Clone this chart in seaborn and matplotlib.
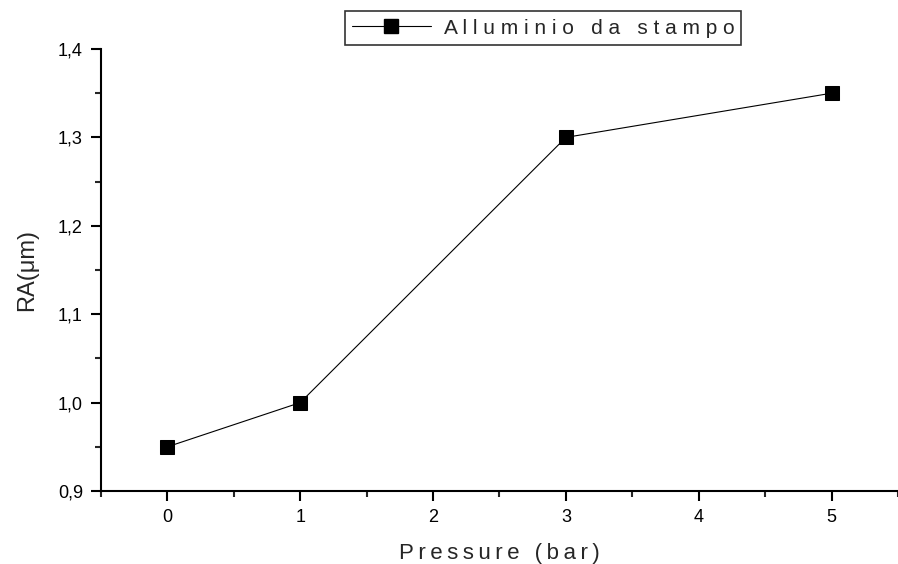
import matplotlib
matplotlib.use("Agg")
import matplotlib.pyplot as plt
import seaborn as sns
import pandas as pd
from matplotlib.ticker import MultipleLocator, FuncFormatter

pressure = [0, 1, 3, 5]
ra = [0.95, 1.00, 1.30, 1.35]
series_name = "Alluminio da stampo"
x_label = "Pressure (bar)"
y_label = "RA(μm)"

sns.set_theme(style="ticks")
plt.rcParams['font.family'] = ['Liberation Sans', 'DejaVu Sans']

def spaced(s, sep="\u2009"):
    return sep.join(s)

df = pd.DataFrame({"Pressure": pressure, "RA": ra, "series": series_name})

fig = plt.figure(figsize=(8.98, 5.64), dpi=100)
ax = fig.add_axes([101/898, 73/564, 1 - 101/898, (491-49)/564])

sns.lineplot(data=df, x="Pressure", y="RA", ax=ax, color="black", linewidth=0.8,
             marker="s", markersize=10, markeredgecolor="black", markerfacecolor="black",
             legend=False)

ax.set_xlim(-0.5, 5.5)
ax.set_ylim(0.9, 1.4)
ax.xaxis.set_major_locator(MultipleLocator(1))
ax.xaxis.set_minor_locator(MultipleLocator(0.5))
ax.yaxis.set_major_locator(MultipleLocator(0.1))
ax.yaxis.set_minor_locator(MultipleLocator(0.05))
ax.yaxis.set_major_formatter(FuncFormatter(lambda v, p: f"{v:.1f}".replace(".", ",")))
ax.xaxis.set_major_formatter(FuncFormatter(lambda v, p: f"{v:.0f}"))

for s in ["top", "right"]:
    ax.spines[s].set_visible(False)
for s in ["left", "bottom"]:
    ax.spines[s].set_linewidth(1.5)
    ax.spines[s].set_color("black")

ax.tick_params(which="major", direction="out", length=7, width=1.5, labelsize=13, colors="black", pad=6)
ax.tick_params(which="minor", direction="out", length=4, width=1.5)

ax.set_xlabel(spaced(x_label), fontsize=16, labelpad=12)
ax.set_ylabel(y_label, fontsize=17, labelpad=14)

handle = plt.Line2D([], [], color="black", linewidth=0.8, marker="s", markersize=10)
leg = fig.legend([handle], [spaced(series_name, " ")], loc="center",
                 bbox_to_anchor=(543/898, 1 - 28/564), frameon=True, fancybox=False,
                 fontsize=15, handlelength=3.8, borderpad=0.35, handletextpad=0.6,
                 borderaxespad=0)
leg.get_frame().set_edgecolor("black")
leg.get_frame().set_linewidth(1.2)

fig.savefig("out.png", dpi=100)
